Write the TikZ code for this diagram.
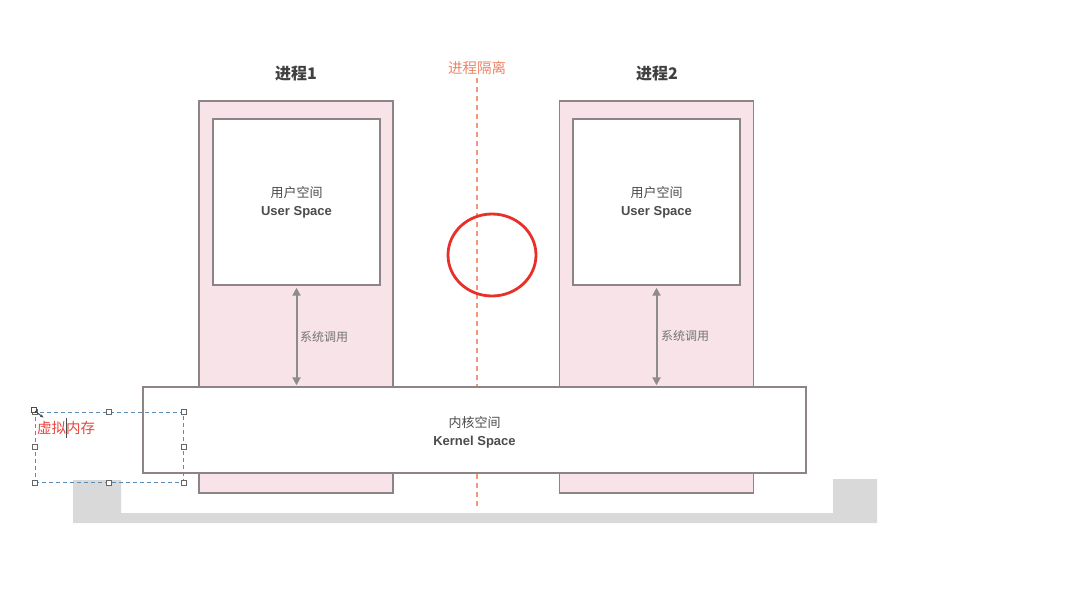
\documentclass[tikz,border=0pt]{standalone}
\usepackage{fontspec}
\setmainfont{Liberation Sans}
\newfontfamily\cjk{Noto Sans CJK SC}
\usetikzlibrary{arrows.meta}

\definecolor{procpink}{HTML}{F8E4E8}
\definecolor{boxline}{HTML}{8C8486}
\definecolor{isoorange}{HTML}{F08466}
\definecolor{markred}{HTML}{E8302A}
\definecolor{selblue}{HTML}{5A8CB8}
\definecolor{traygray}{HTML}{D9D9D9}

\tikzset{
  procbox/.style={draw=boxline,line width=1.4pt,fill=procpink,inner sep=0pt},
  userbox/.style={draw=boxline,line width=1.4pt,fill=white,inner sep=0pt},
  title/.style={text=black!75,font=\cjk\bfseries\fontsize{16}{18}\selectfont},
  spacetext/.style={text=black!70,align=center,font=\fontsize{13}{18}\selectfont},
  sysarrow/.style={draw=black!45,line width=2pt,{Triangle[width=8pt,length=8pt]}-{Triangle[width=8pt,length=8pt]}},
  handle/.style={draw=black!60,fill=white,line width=0.6pt,minimum size=5pt,inner sep=0pt}
}

\begin{document}
\begin{tikzpicture}[x=1pt,y=-1pt]
  \fill[white] (0,0) rectangle (1074,590);
  % tray underneath
  \fill[traygray] (73,480) -- (121,480) -- (121,513) -- (833,513) -- (833,479) -- (877,479) -- (877,523) -- (73,523) -- cycle;
  % isolation line
  \node[text=isoorange,font=\cjk\fontsize{14.5}{16}\selectfont] (iso) at (477,68) {进程隔离};
  \coordinate (isoend) at (477,509);
  \draw[isoorange!85,line width=1.5pt,dash pattern=on 5pt off 4pt] (iso.south) -- (isoend);
  % two processes
  \node[procbox,minimum width=194,minimum height=392] (p1) at (296,297) {};
  \node[procbox,minimum width=194,minimum height=392] (p2) at (656.5,297) {};
  \node[userbox,minimum width=167,minimum height=166] (u1) at (296.5,202) {};
  \node[userbox,minimum width=167,minimum height=166] (u2) at (656.5,202) {};
  \node[title] (t1) at (296,74) {进程1};
  \node[title] (t2) at (657,74) {进程2};
  \node[spacetext] (us1) at (u1) {{\cjk 用户空间}\\\textbf{User Space}};
  \node[spacetext] (us2) at (u2) {{\cjk 用户空间}\\\textbf{User Space}};
  % kernel
  \node[userbox,minimum width=663,minimum height=86] (k) at (474.5,430) {};
  \node[spacetext] (ks) at (474.5,432) {{\cjk 内核空间}\\\textbf{Kernel Space}};
  \draw[sysarrow,shorten <=2pt,shorten >=1pt] (u1.south) -- (u1.south |- k.north);
  \draw[sysarrow,shorten <=2pt,shorten >=1pt] (u2.south) -- (u2.south |- k.north);
  \node[text=black!55,font=\cjk\fontsize{12}{14}\selectfont] (sc1) at (324,337) {系统调用};
  \node[text=black!55,font=\cjk\fontsize{12}{14}\selectfont] (sc2) at (685,336) {系统调用};
  % red mark
  \draw[markred,line width=2.8pt] (492,255) ellipse (44 and 41);
  % selected text box
  \node[draw=selblue,dash pattern=on 4pt off 3pt,line width=0.8pt,minimum width=148,minimum height=70,inner sep=0pt] (sel) at (109,447) {};
  \foreach \a in {north west,north,north east,west,east,south west,south,south east}
    \node[handle] at (sel.\a) {};
  \node[text=markred!90,anchor=west,inner sep=0pt,font=\cjk\fontsize{14.5}{16}\selectfont] (vm) at (37,428) {虚拟内存};
  \coordinate (cur) at (66,418);
  \draw[black!70,line width=0.8pt] (cur) -- ++(0,20);
  \draw[black!70,line width=0.8pt,fill=white] (31,407) rectangle (36,412);
  \draw[black!70,line width=1pt,-{Latex[length=4pt]}] (35,411) -- (44,418);
\end{tikzpicture}
\end{document}
